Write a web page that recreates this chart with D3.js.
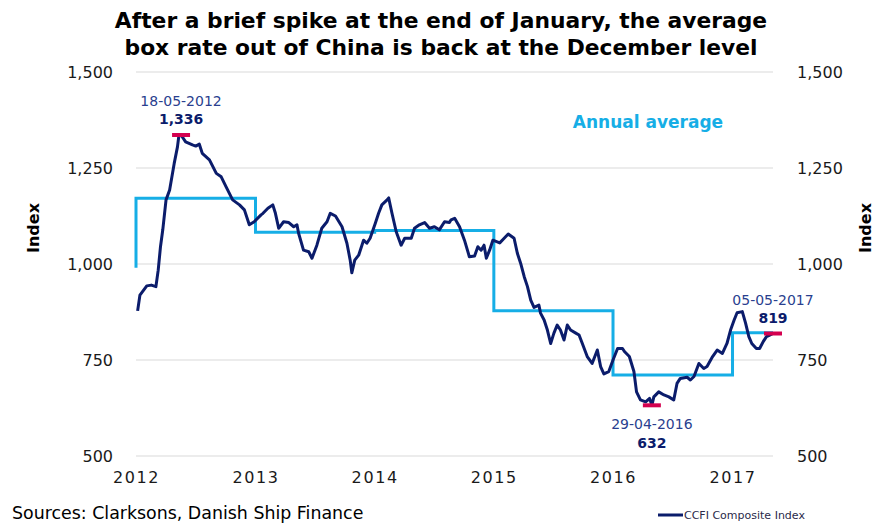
<!DOCTYPE html>
<html>
<head>
<meta charset="utf-8">
<script src="https://cdn.jsdelivr.net/npm/d3@7"></script>
<style>
  body { margin: 0; background: #fff; }
  svg { font-family: "DejaVu Sans", Verdana, sans-serif; }
</style>
</head>
<body>
<div id="chart"></div>
<script>
// chart size
const width = 878, height = 524;
const padding = {top: 72, right: 105, bottom: 68, left: 136};

const LineCol = "#0b1c6b";
const AvgCol = "#16aee6";
const MarkCol = "#d4004f";
const NoteCol = "#2a3f8f";

// CCFI composite index
const ccfiDates = [
  "2012-01-06","2012-01-13","2012-02-03","2012-02-17","2012-03-02","2012-03-09","2012-03-16","2012-03-23","2012-04-02","2012-04-13",
  "2012-04-27","2012-05-07","2012-05-11","2012-05-18","2012-06-01","2012-06-22","2012-07-02","2012-07-13","2012-07-22","2012-08-13",
  "2012-09-03","2012-09-18","2012-10-03","2012-10-23","2012-11-13","2012-11-28","2012-12-13","2012-12-28",
  "2013-01-18","2013-01-24","2013-02-08","2013-02-23","2013-03-03","2013-03-13","2013-03-28","2013-04-13","2013-04-28","2013-05-08",
  "2013-05-13","2013-05-28","2013-06-13","2013-06-23","2013-07-08","2013-07-23","2013-08-08","2013-08-18","2013-09-03","2013-09-23",
  "2013-10-08","2013-10-18","2013-10-23","2013-11-01","2013-11-13","2013-11-28","2013-12-08","2013-12-18",
  "2014-01-03","2014-01-13","2014-01-23","2014-02-08","2014-02-13","2014-02-23","2014-03-08","2014-03-23","2014-04-03","2014-04-23",
  "2014-05-03","2014-05-18","2014-06-03","2014-06-18","2014-07-03","2014-07-18","2014-08-03","2014-08-18","2014-08-23","2014-09-03",
  "2014-09-18","2014-10-03","2014-10-18","2014-11-03","2014-11-13","2014-11-23","2014-12-02","2014-12-09","2014-12-19","2014-12-29",
  "2015-01-19","2015-01-29","2015-02-14","2015-03-04","2015-03-14","2015-03-24","2015-04-04","2015-04-14","2015-04-24","2015-05-04",
  "2015-05-19","2015-05-24","2015-06-04","2015-06-14","2015-06-24","2015-07-04","2015-07-14","2015-07-24","2015-08-04","2015-08-14",
  "2015-08-24","2015-09-09","2015-09-19","2015-09-29","2015-10-14","2015-10-29","2015-11-14","2015-11-24","2015-12-04","2015-12-19",
  "2016-01-01","2016-01-15","2016-01-30","2016-02-05","2016-02-20","2016-03-05","2016-03-13","2016-03-25","2016-04-10","2016-04-22",
  "2016-04-29","2016-05-05","2016-05-20","2016-06-05","2016-06-20","2016-07-05","2016-07-15","2016-07-25","2016-08-15","2016-08-25",
  "2016-09-05","2016-09-20","2016-10-05","2016-10-15","2016-11-01","2016-11-15","2016-12-01","2016-12-15","2016-12-26",
  "2017-01-06","2017-01-15","2017-01-31","2017-02-10","2017-02-20","2017-03-01","2017-03-15","2017-03-25","2017-04-05","2017-04-15",
  "2017-04-25","2017-05-05"
];
const ccfiValues = [
  878,919,943,945,941,984,1045,1089,1167,1193,
  1262,1305,1332,1336,1318,1310,1307,1312,1288,1271,
  1236,1227,1201,1167,1154,1141,1102,1110,
  1128,1132,1145,1154,1132,1093,1110,1108,1097,1102,
  1080,1036,1032,1015,1049,1093,1110,1132,1125,1097,
  1054,1010,977,1010,1023,1062,1054,1067,
  1106,1132,1154,1167,1172,1132,1084,1049,1067,1067,
  1093,1102,1108,1093,1097,1089,1110,1108,1115,1119,
  1097,1062,1019,1021,1045,1036,1049,1015,1036,1062,
  1055,1064,1078,1067,1028,1002,967,941,906,887,
  893,872,854,828,793,820,841,828,802,841,
  828,820,815,793,759,741,776,733,714,720,
  750,780,780,772,759,720,667,646,641,650,
  632,654,667,659,654,646,689,702,705,698,
  707,741,728,733,759,776,767,793,828,
  854,873,876,846,811,793,780,780,798,811,
  815,819
];

// annual averages (step line)
const avgYears = [2012, 2013, 2014, 2015, 2016, 2017];
const avgValues = [1171, 1083, 1087, 878, 711, 821];
const avgStart = 990;

// y ticks and annotated points
const yTicks = [500, 750, 1000, 1250, 1500];
const notes = [
  {date: "2012-05-18", label: "18-05-2012", value: 1336, pos: "above"},
  {date: "2016-04-29", label: "29-04-2016", value: 632, pos: "below"},
  {date: "2017-05-05", label: "05-05-2017", value: 819, pos: "above"}
];

const parse = d3.timeParse("%Y-%m-%d");
const data = ccfiDates.map(function(d, i) { return {date: parse(d), value: ccfiValues[i]}; });
const lastDate = data[data.length - 1].date;

const svg = d3.select("#chart").append("svg")
  .attr("width", width)
  .attr("height", height);

// x Axis
const x = d3.scaleTime().domain([new Date(2012, 0, 1), lastDate]).range([padding.left, width - padding.right]);
// y Axis
const y = d3.scaleLinear().domain([500, 1500]).range([height - padding.bottom, padding.top]);

// grid lines
svg.append("g")
  .selectAll("line")
  .data(yTicks)
  .join("line")
    .attr("x1", padding.left)
    .attr("x2", width - padding.right)
    .attr("y1", function(d) { return y(d); })
    .attr("y2", function(d) { return y(d); })
    .attr("stroke", "#d9d9d9")
    .attr("stroke-width", 1);

const yAxisL = d3.axisLeft(y).tickValues(yTicks).tickSize(0).tickPadding(23).tickFormat(d3.format(","));
svg.append("g")
  .attr("class", "axis yl")
  .attr("transform", "translate(" + padding.left + ",0)")
  .call(yAxisL);

const yAxisR = d3.axisRight(y).tickValues(yTicks).tickSize(0).tickPadding(24).tickFormat(d3.format(","));
svg.append("g")
  .attr("class", "axis yr")
  .attr("transform", "translate(" + (width - padding.right) + ",0)")
  .call(yAxisR);

const xAxis = d3.axisBottom(x).ticks(d3.timeYear.every(1)).tickSize(0).tickPadding(16).tickFormat(d3.timeFormat("%Y"));
svg.append("g")
  .attr("class", "axis x")
  .attr("transform", "translate(0," + (height - padding.bottom) + ")")
  .call(xAxis);

svg.selectAll(".axis .domain").remove();
svg.selectAll(".axis text")
  .attr("font-family", "'DejaVu Sans', sans-serif")
  .attr("font-size", 16)
  .attr("fill", "#1a1a1a");
svg.selectAll(".axis.x text")
  .attr("letter-spacing", 1.6);

// axis titles
svg.append("text")
  .attr("transform", "translate(39,228) rotate(-90)")
  .attr("text-anchor", "middle")
  .attr("font-weight", "bold")
  .attr("font-size", 16)
  .text("Index");
svg.append("text")
  .attr("transform", "translate(871,228) rotate(-90)")
  .attr("text-anchor", "middle")
  .attr("font-weight", "bold")
  .attr("font-size", 16)
  .text("Index");

// annual average step line
const avgPts = [[new Date(2012, 0, 1), avgStart]];
avgYears.forEach(function(yr, i) {
  avgPts.push([new Date(yr, 0, 1), avgValues[i]]);
  const end = i < avgYears.length - 1 ? new Date(avgYears[i + 1], 0, 1) : lastDate;
  avgPts.push([end, avgValues[i]]);
});
svg.append("path")
  .datum(avgPts)
  .attr("fill", "none")
  .attr("stroke", AvgCol)
  .attr("stroke-width", 3)
  .attr("d", d3.line()
    .x(function(d) { return x(d[0]); })
    .y(function(d) { return y(d[1]); }));

// CCFI line
svg.append("path")
  .datum(data)
  .attr("fill", "none")
  .attr("stroke", LineCol)
  .attr("stroke-width", 3)
  .attr("stroke-linejoin", "round")
  .attr("d", d3.line()
    .x(function(d) { return x(d.date); })
    .y(function(d) { return y(d.value); }));

// markers and labels
const noteG = svg.append("g")
  .selectAll("g")
  .data(notes)
  .join("g")
    .attr("transform", function(d) { return "translate(" + x(parse(d.date)) + "," + y(d.value) + ")"; });

noteG.append("line")
  .attr("x1", -9).attr("x2", 9)
  .attr("stroke", MarkCol)
  .attr("stroke-width", 4);

noteG.append("text")
  .attr("text-anchor", "middle")
  .attr("y", function(d) { return d.pos == "above" ? -29 : 24; })
  .attr("font-size", 14)
  .attr("fill", NoteCol)
  .text(function(d) { return d.label; });

noteG.append("text")
  .attr("text-anchor", "middle")
  .attr("y", function(d) { return d.pos == "above" ? -11 : 43; })
  .attr("font-size", 14)
  .attr("font-weight", "bold")
  .attr("fill", LineCol)
  .text(function(d) { return d3.format(",")(d.value); });

svg.append("text")
  .attr("x", 648)
  .attr("y", 128)
  .attr("text-anchor", "middle")
  .attr("font-size", 17)
  .attr("font-weight", "bold")
  .attr("fill", AvgCol)
  .text("Annual average");

// title
const title = svg.append("text")
  .attr("text-anchor", "middle")
  .attr("font-size", 21.8)
  .attr("font-weight", "bold")
  .attr("fill", "#000");
title.append("tspan").attr("x", 441).attr("y", 28).text("After a brief spike at the end of January, the average");
title.append("tspan").attr("x", 441).attr("y", 55).text("box rate out of China is back at the December level");

// sources
svg.append("text")
  .attr("x", 12)
  .attr("y", 519)
  .attr("font-size", 17.4)
  .attr("fill", "#000")
  .text("Sources: Clarksons, Danish Ship Finance");

// legend
svg.append("line")
  .attr("x1", 658).attr("x2", 683)
  .attr("y1", 515).attr("y2", 515)
  .attr("stroke", LineCol)
  .attr("stroke-width", 3);
svg.append("text")
  .attr("x", 684)
  .attr("y", 519)
  .attr("font-size", 11)
  .attr("fill", "#2a2a4a")
  .text("CCFI Composite Index");
</script>
</body>
</html>
